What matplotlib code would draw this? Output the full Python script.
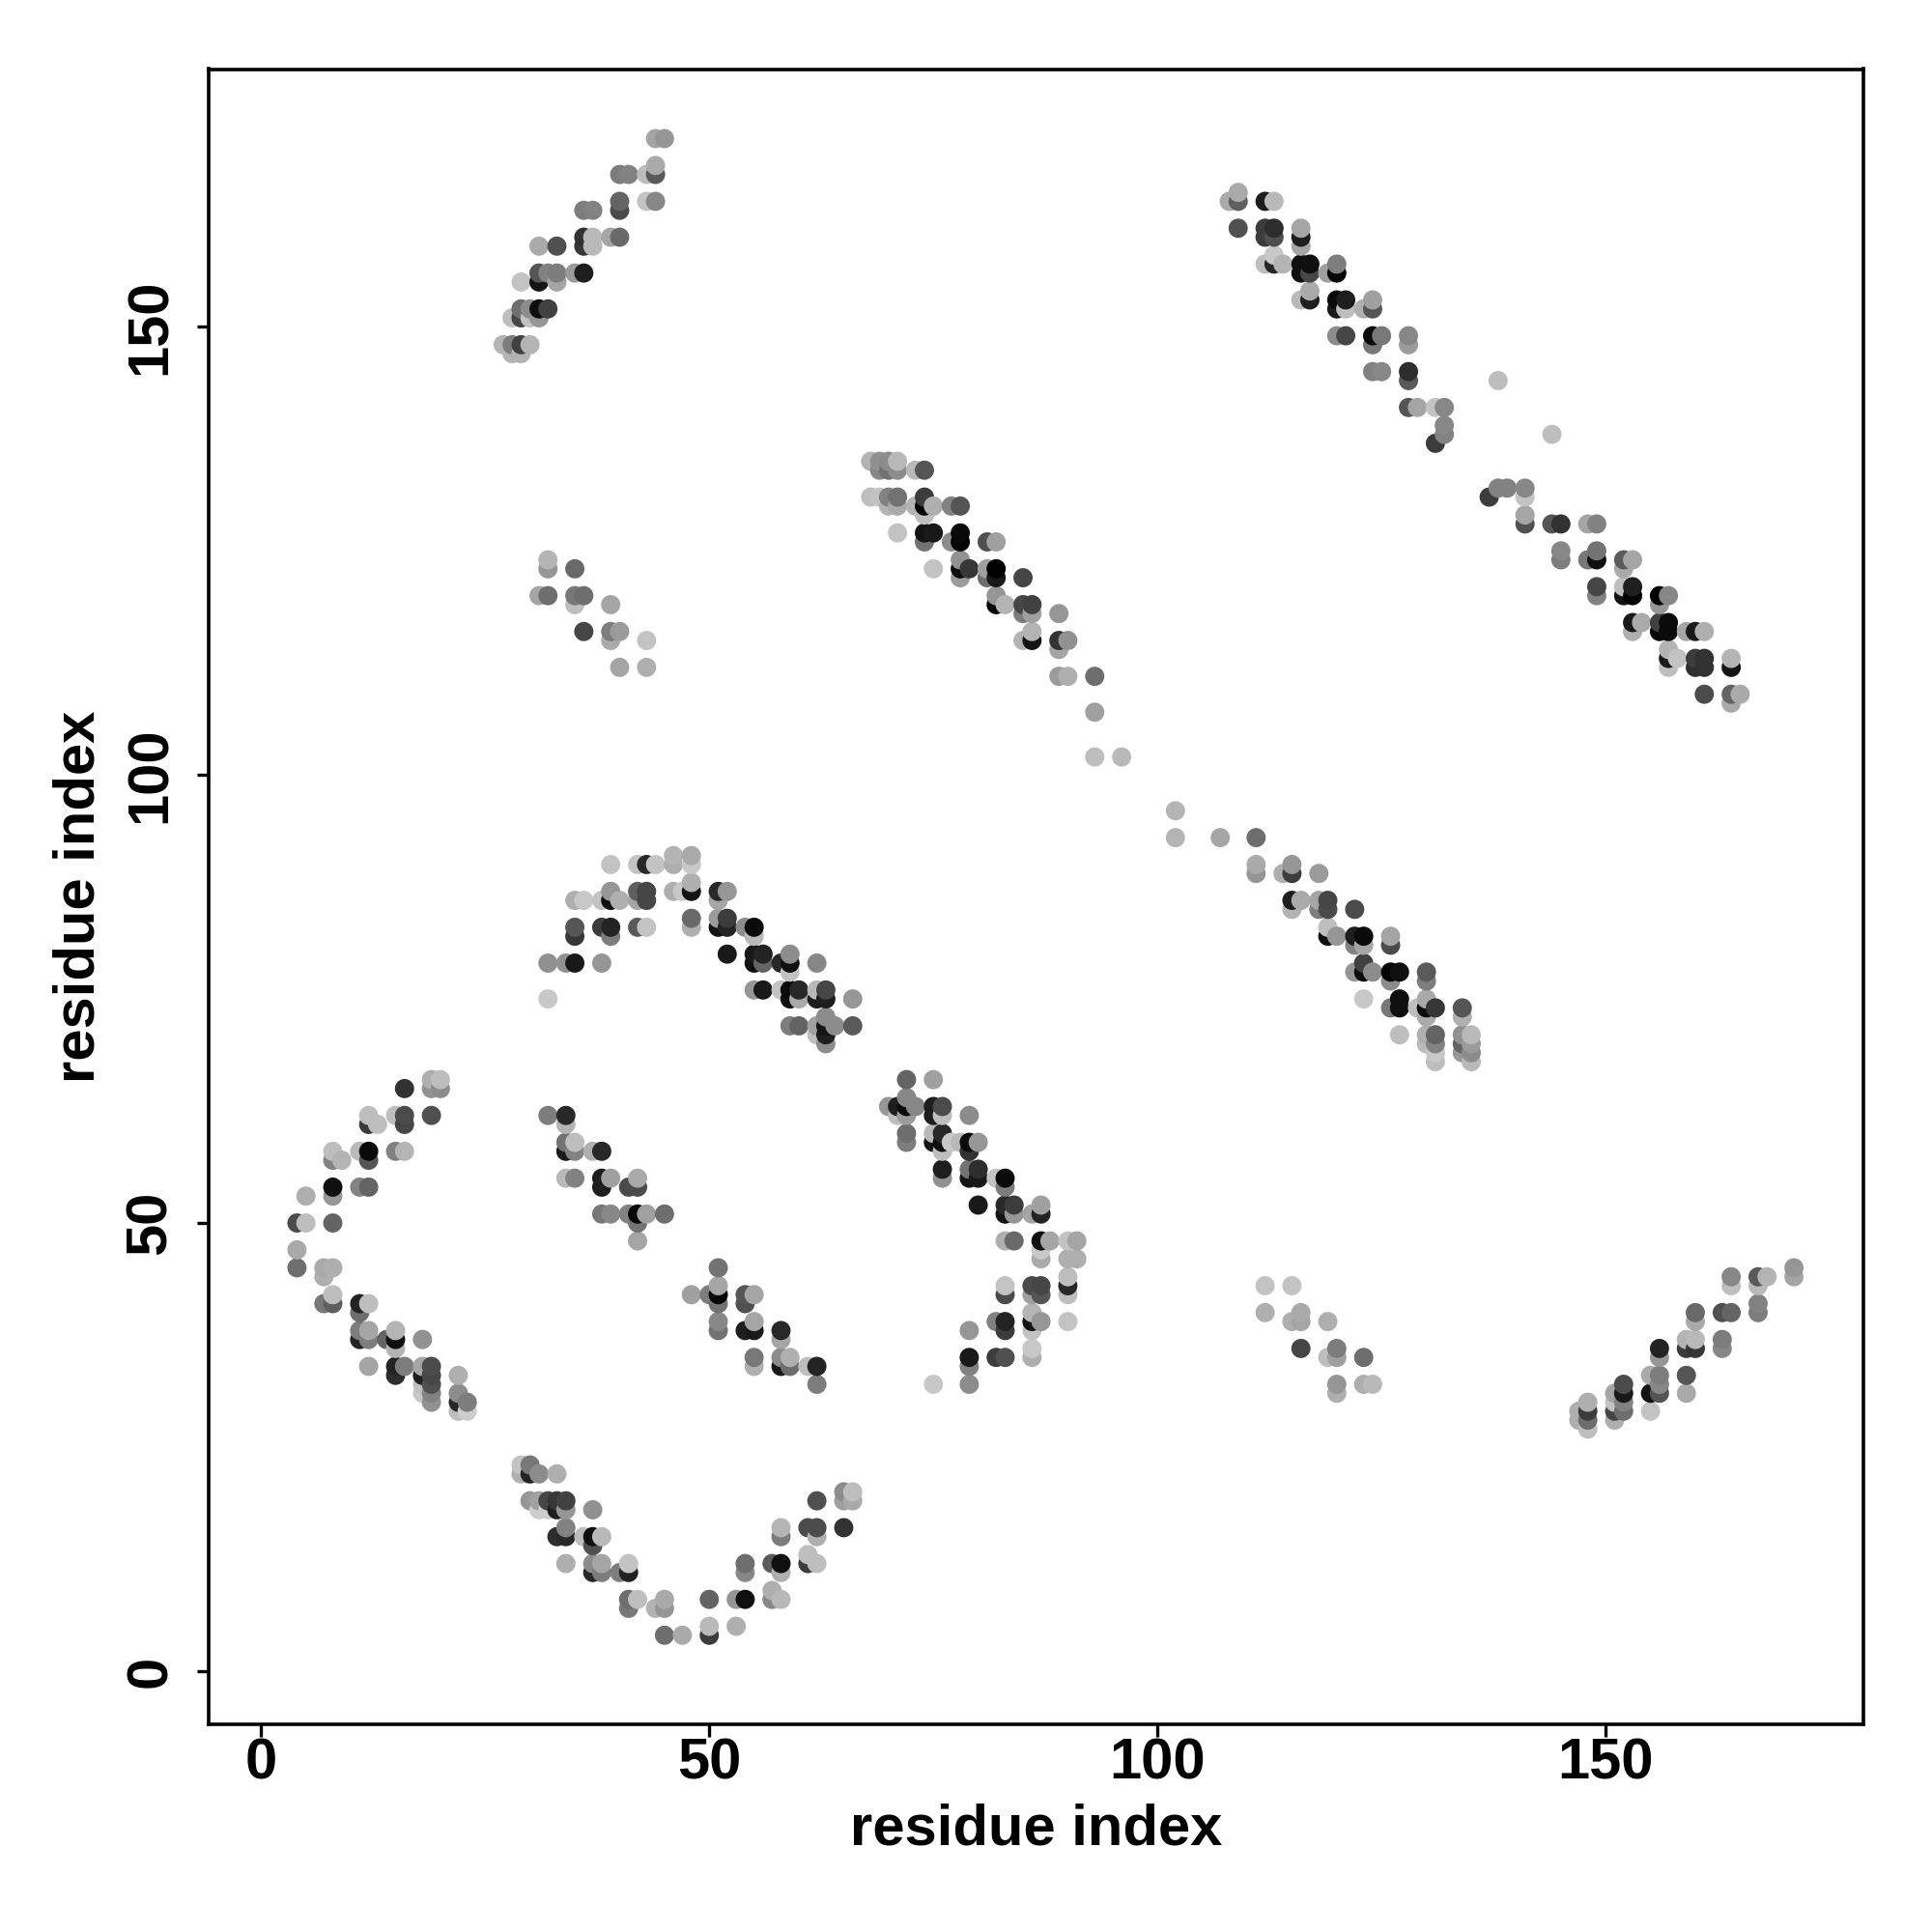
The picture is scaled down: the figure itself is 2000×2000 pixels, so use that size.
import numpy as np
import matplotlib
matplotlib.use('Agg')
import matplotlib.pyplot as plt

plt.rcParams['font.family'] = ['Liberation Sans', 'DejaVu Sans']
plt.rcParams['font.weight'] = 'bold'

# --- contacts: (residue i, residue j, grey level) ---

lower_left = [
    (4,50,75),(4,47,170),(4,45,110),(5,50,190),(5,53,175),(7,45,170),(7,44,175),(7,41,120),
    (8,54,15),(8,53,150),(8,50,100),(8,45,175),(8,42,190),(8,41,95),(8,58,190),(8,57,130),(9,57,180),
    (11,58,185),(11,54,130),(11,41,35),(11,40,110),(11,38,125),(11,37,35),
    (12,62,190),(12,61,60),(12,58,10),(12,57,85),(12,54,100),(12,41,190),(12,38,165),(12,37,125),(12,34,165),
    (13,61,190),(14,37,100),(15,62,190),(15,58,130),(15,38,180),(15,37,15),(15,36,180),(15,34,35),(15,33,45),
    (16,65,50),(16,62,75),(16,61,70),(16,58,180),(16,34,125),
    (18,37,145),(18,34,165),(18,33,30),(18,32,190),(18,31,200),
    (19,66,175),(19,65,145),(19,62,80),(19,34,75),(19,33,70),(19,32,80),(19,31,130),(19,30,145),
    (20,66,190),(20,65,140),(22,33,175),(22,31,140),(22,30,40),(22,29,190),(23,30,125),(23,29,205),
]

bottom_arc = [
    (29,23,195),(29,22,175),(30,23,120),(30,22,35),(30,19,150),(31,22,140),(31,19,160),(31,18,205),
    (32,19,70),(32,18,205),(33,22,175),(33,19,55),(33,18,30),(33,15,45),
    (34,19,65),(34,18,150),(34,16,130),(34,15,40),(34,12,175),(36,15,190),
    (37,18,145),(37,15,15),(37,14,80),(37,12,140),(37,11,40),(38,15,185),(38,12,165),(38,11,125),
    (40,11,125),(41,12,195),(41,11,35),(41,8,110),(41,7,120),(42,8,190),(44,7,180),
    (45,8,170),(45,7,150),(45,4,110),(47,4,170),(50,8,100),(50,5,185),(50,4,60),(53,8,150),(53,5,175),
    (54,8,15),(54,12,110),(54,11,135),(57,12,90),(57,9,175),(57,8,135),
    (58,16,180),(58,15,125),(58,12,15),(58,11,175),(58,8,185),(61,16,75),(61,13,190),(61,12,60),
    (62,19,80),(62,16,75),(62,15,175),(62,12,190),(65,20,140),(65,19,160),(65,16,50),(66,20,190),(66,19,170),
]

middle_arc = [
    (32,79,145),(32,75,200),(34,79,145),(35,79,25),(35,86,175),(35,83,85),(35,82,55),(36,86,200),
    (38,86,195),(38,83,60),(38,79,150),(39,90,195),(39,87,150),(39,86,15),(39,83,35),(39,82,125),(40,86,175),
    (42,90,195),(42,87,95),(42,86,165),(42,83,90),(43,90,40),(43,87,70),(43,86,70),(43,83,195),(44,90,195),
    (46,91,180),(46,90,175),(46,87,175),(47,87,200),
    (48,91,170),(48,90,200),(48,88,175),(48,87,20),(48,84,105),(48,83,175),
    (51,87,40),(51,86,165),(51,84,155),(51,83,20),(52,87,150),(52,84,60),(52,83,35),(52,80,25),
    (54,83,140),(55,83,10),(55,82,185),(55,80,25),(55,79,15),(55,76,150),(56,80,35),(56,79,100),(56,76,25),
    (58,79,40),(58,76,195),(59,80,140),(59,79,15),(59,78,195),(59,76,10),(59,75,15),(59,72,125),
    (60,76,40),(60,75,170),(60,72,100),(62,79,135),(62,76,185),(62,75,30),(62,72,160),(62,71,190),
    (63,76,70),(63,75,30),(63,73,140),(63,72,20),(63,71,30),(63,70,140),(64,72,140),(66,75,150),(66,72,90),
]

inner_upper = [
    (32,62,125),(34,62,40),(34,61,180),(34,59,115),(34,58,25),(34,55,185),(35,59,190),(35,58,130),(35,55,130),
    (37,58,175),(38,58,40),(38,55,30),(38,54,30),(38,51,120),(39,55,160),(39,51,135),(41,54,75),(41,51,130),
    (42,55,170),(42,54,75),(42,51,5),(42,50,115),(42,48,165),(43,51,160),(45,51,110),
]

inner_lower = [
    (48,42,160),(50,42,125),(51,45,115),(51,43,165),(51,42,5),(51,41,115),(51,39,135),(51,38,115),
    (54,42,85),(54,41,80),(54,38,30),(55,42,165),(55,39,165),(55,38,25),(55,35,120),(55,34,175),
    (58,38,40),(58,37,165),(58,35,140),(58,34,25),(59,35,175),(59,34,110),(61,34,190),(62,34,35),(62,32,125),
]

centre_band = [
    (70,63,150),(71,63,30),(71,62,190),(72,66,100),(72,64,135),(72,63,10),(72,62,155),(72,60,110),(72,59,125),
    (73,63,135),(75,66,160),(75,63,30),(75,62,30),(75,60,185),(75,59,20),
    (76,63,75),(76,62,190),(76,60,40),(76,59,15),(76,58,190),(76,56,30),(76,55,145),(77,59,200),(78,59,185),
    (79,62,140),(79,59,10),(79,58,50),(79,56,115),(79,55,20),(79,38,150),(79,35,25),(79,34,130),(79,32,140),
    (80,59,150),(80,56,45),(80,55,25),(80,52,25),
    (82,55,195),(82,39,130),(82,35,60),
    (83,55,10),(83,54,125),(83,52,40),(83,51,20),(83,48,175),(83,43,195),(83,42,75),(83,39,35),(83,38,60),(83,35,80),
    (84,52,60),(84,51,150),(84,48,105),
    (86,51,165),(86,43,75),(86,42,160),(86,40,180),(86,39,20),(86,38,195),(86,36,200),(86,35,175),
    (87,52,160),(87,51,35),(87,48,15),(87,47,200),(87,46,170),(87,43,70),(87,42,85),(87,39,150),(88,48,165),
    (90,48,195),(90,46,175),(90,44,190),(90,43,40),(90,42,190),(90,39,195),(91,48,165),(91,46,175),
    (75,32,200),
]

top_left = [
    (27,148,180),(28,148,125),(28,147,180),(28,151,190),(29,155,195),(29,152,110),(29,151,70),(29,148,65),(29,147,180),
    (30,152,140),(30,151,195),(30,148,180),(31,159,170),(31,156,85),(31,155,20),(31,152,15),(31,151,150),
    (32,156,130),(32,152,65),(33,159,80),(33,156,125),(33,155,165),(35,156,155),
    (36,163,125),(36,160,50),(36,159,55),(36,156,30),(37,163,130),(37,160,185),(37,159,185),(39,160,165),
    (40,167,125),(40,164,100),(40,163,75),(40,160,105),(41,167,130),(43,167,190),(43,164,195),
    (44,171,165),(44,168,170),(44,167,90),(44,164,135),(45,171,150),
]

upper_middle = [
    (68,135,180),(68,131,190),(69,135,145),(69,134,135),(69,131,195),
    (70,135,140),(70,134,115),(70,131,130),(70,130,180),(71,135,185),(71,134,140),(71,131,115),(71,130,170),(71,127,195),
    (73,134,185),(73,130,180),(74,134,85),(74,131,60),(74,130,5),(74,129,190),(74,127,20),(74,126,115),
    (75,130,175),(75,127,25),(75,123,195),(77,130,130),(77,126,140),
    (78,130,85),(78,127,10),(78,126,5),(78,124,145),(78,123,10),(78,122,155),(79,123,55),
    (81,126,80),(81,123,160),(81,122,110),(82,126,160),(82,123,0),(82,122,25),(82,120,150),(82,119,5),(83,119,180),
    (85,122,70),(85,119,70),(85,118,125),(85,115,180),(86,119,65),(86,118,160),(86,116,180),(86,115,20),
    (89,118,150),(89,115,50),(89,114,165),(89,111,155),(90,115,145),(90,111,175),
    (93,111,110),(93,107,160),(93,102,190),(96,102,185),
]

upper_right = [
    (108,164,170),(109,165,170),(109,164,95),(109,161,80),(112,164,30),(112,161,60),(112,160,60),(112,157,190),
    (113,164,185),(113,161,45),(113,160,80),(113,158,200),(113,157,40),(114,157,180),
    (116,161,165),(116,160,30),(116,159,165),(116,157,15),(116,156,15),(116,153,185),
    (117,157,15),(117,156,70),(117,154,170),(117,153,30),(119,156,160),(120,157,125),(120,156,5),
    (120,153,10),(120,152,25),(120,149,140),(121,153,30),(121,152,190),(121,149,70),(123,152,175),
    (124,153,160),(124,152,85),(124,149,10),(124,148,120),(124,145,130),(125,149,120),(125,145,135),
    (128,149,135),(128,148,155),(128,145,45),(128,144,90),(128,141,85),(129,141,165),
    (131,141,195),(131,137,60),(132,141,135),(132,139,135),(132,138,130),
    (138,144,190),(144,138,190),
]

far_right = [
    (137,131,60),(138,132,130),(139,132,130),(141,132,135),(141,131,195),(141,129,165),(141,128,80),
    (144,128,85),(145,128,50),(145,125,135),(145,124,125),(148,128,165),(148,124,120),
    (149,128,130),(149,125,115),(149,124,15),(149,121,70),(149,120,130),
    (152,124,90),(152,123,170),(152,121,190),(152,120,20),(153,124,165),(153,121,30),(153,120,5),(153,117,25),(153,116,175),
    (154,117,170),(156,120,0),(156,119,150),(156,117,65),(156,116,5),
    (157,120,135),(157,117,10),(157,116,10),(157,114,180),(157,113,25),(157,112,190),(158,113,195),
    (159,116,165),(160,116,25),(160,113,60),(160,112,45),(161,116,175),(161,113,50),(161,112,50),(161,109,75),
    (164,113,180),(164,112,20),(164,109,100),(164,108,170),(165,109,170),
]

right_middle = [
    (102,96,180),(102,93,180),(107,93,165),(111,93,110),(111,90,170),(111,89,150),(114,89,175),
    (115,90,150),(115,89,60),(115,86,30),(115,85,180),(116,86,170),(118,89,155),(118,86,165),(118,85,125),
    (119,86,70),(119,85,75),(119,83,190),(119,82,15),(120,82,150),
    (122,85,75),(122,82,30),(122,81,130),(122,78,150),(123,82,10),(123,81,165),(123,79,65),(123,78,10),(123,75,200),(124,78,140),
    (126,82,165),(126,81,75),(126,78,5),(126,77,140),(126,74,120),(127,78,15),(127,75,15),(127,74,15),(127,71,190),(129,74,190),
    (130,78,90),(130,77,125),(130,75,170),(130,74,10),(130,73,170),(130,71,175),(130,70,185),
    (131,74,55),(131,71,100),(131,70,130),(131,69,200),(131,68,190),
    (134,74,85),(134,73,175),(134,71,145),(134,70,100),(134,69,150),(135,71,185),(135,70,155),(135,69,140),(135,68,185),
]

bottom_right = [
    (147,29,175),(147,28,175),(148,30,175),(148,29,60),(148,28,110),(148,27,190),
    (151,31,165),(151,30,195),(151,29,70),(151,28,175),(152,32,75),(152,31,25),(152,30,130),(152,29,110),
    (155,33,170),(155,31,20),(155,29,195),(156,36,35),(156,35,150),(156,33,125),(156,32,135),(156,31,85),
    (159,37,180),(159,36,60),(159,33,85),(159,31,170),(160,40,105),(160,39,170),(160,37,185),(160,36,55),
    (163,40,80),(163,37,125),(163,36,135),(164,44,135),(164,43,190),(164,40,100),
    (167,44,90),(167,43,185),(167,41,130),(167,40,125),(168,44,180),(171,45,150),(171,44,165),
]

small_upper = [
    (31,120,165),(32,124,180),(32,123,150),(32,120,110),(35,123,105),(35,120,120),(35,119,190),(36,120,110),
    (36,116,70),(39,119,165),(39,116,125),(39,115,170),(40,116,155),(40,112,165),(43,115,195),(43,112,175),
]

small_lower = [
    (112,43,195),(112,40,175),(115,43,195),(115,39,175),(116,40,170),(116,39,165),(116,36,70),(119,39,175),
    (119,35,190),(120,36,125),(120,35,160),(120,32,150),(120,31,175),(123,35,110),(123,32,175),(124,32,185),
]

tick_values = [0, 50, 100, 150]
axis_label = 'residue index'


def main():
    contacts = np.array(lower_left + bottom_arc + middle_arc + inner_upper + inner_lower
                        + centre_band + top_left + upper_middle + upper_right + far_right
                        + right_middle + bottom_right + small_upper + small_lower)

    # later residues are painted over earlier ones
    order = np.lexsort((contacts[:, 1], contacts[:, 0]))
    contacts = contacts[order]

    fig = plt.figure(figsize=(20, 20), dpi=100)
    ax = fig.add_axes([216 / 2000, 215 / 2000, 1713 / 2000, 1713.5 / 2000])

    ax.scatter(contacts[:, 0], contacts[:, 1], c=contacts[:, 2], cmap='gray', vmin=0, vmax=255,
               s=205, linewidths=0, clip_on=False)

    ax.set_xlim(-5.85, 178.75)
    ax.set_ylim(-5.94, 178.76)
    ax.set_xticks(tick_values)
    ax.set_yticks(tick_values)
    ax.tick_params(length=9, width=2.4, labelsize=43)
    ax.tick_params(axis='x', pad=1)
    ax.tick_params(axis='y', pad=14)
    plt.setp(ax.get_yticklabels(), rotation=90, va='center')
    for side in ax.spines.values():
        side.set_linewidth(2.6)

    ax.set_xlabel(axis_label, fontsize=43, fontweight='bold', labelpad=9)
    ax.set_ylabel(axis_label, fontsize=43, fontweight='bold', labelpad=14)

    fig.savefig('out.png', dpi=100)


if __name__ == '__main__':
    main()
